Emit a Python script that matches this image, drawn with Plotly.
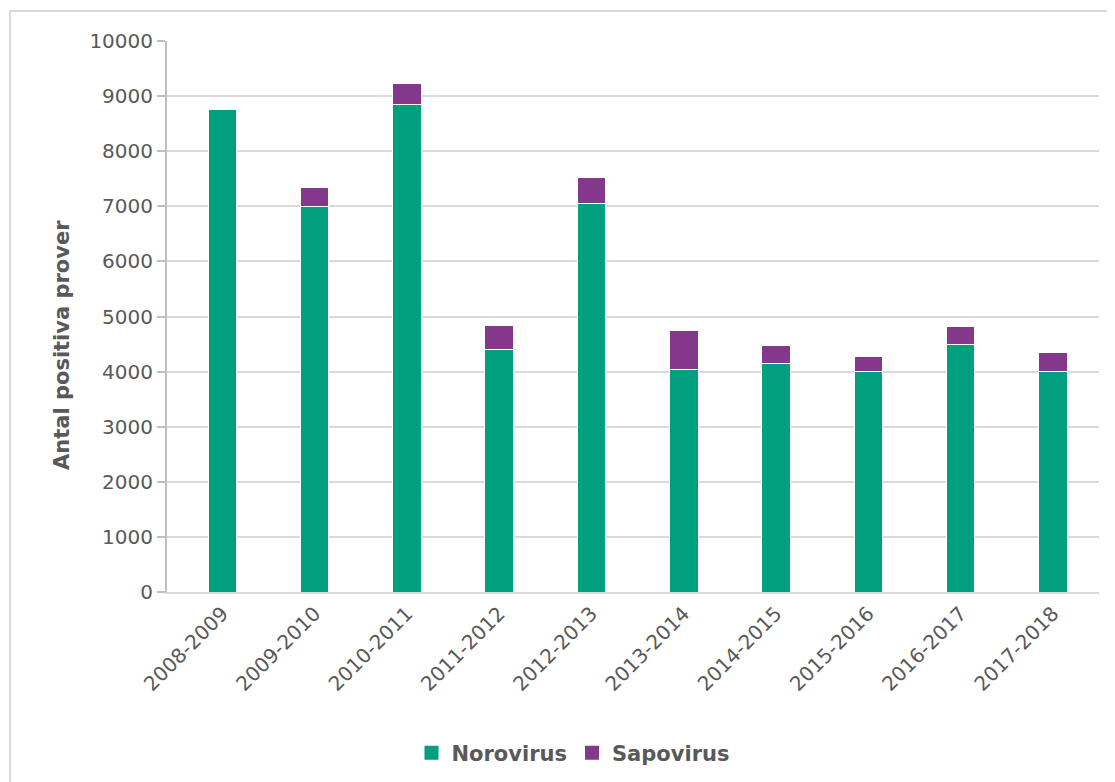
import plotly.graph_objects as go

seasons = ["2008-2009", "2009-2010", "2010-2011", "2011-2012", "2012-2013",
           "2013-2014", "2014-2015", "2015-2016", "2016-2017", "2017-2018"]
norovirus = [8760, 6990, 8840, 4400, 7050, 4040, 4150, 4010, 4500, 4000]
sapovirus = [0, 350, 390, 440, 470, 700, 330, 260, 310, 340]
y_ticks = list(range(0, 10001, 1000))

GREEN = "#00a07f"
PURPLE = "#84388b"
FONT = "DejaVu Sans"
TXT = "#595959"

fig = go.Figure()
fig.add_trace(go.Bar(name="Norovirus", x=seasons, y=norovirus, marker_color=GREEN,
                     marker_line=dict(color="white", width=1), showlegend=False))
fig.add_trace(go.Bar(name="Sapovirus", x=seasons, y=sapovirus, marker_color=PURPLE,
                     marker_line=dict(color="white", width=1), showlegend=False))
# legend entries with larger square symbols
for name, col in [("Norovirus", GREEN), ("Sapovirus", PURPLE)]:
    fig.add_trace(go.Scatter(name=name, x=[seasons[0]], y=[None], mode="markers",
                             marker=dict(symbol="square", size=14, color=col),
                             showlegend=True, hoverinfo="skip"))

W, H = 1107, 774
L, T = 159, 33
pw, ph = 932, 551
R = W - L - pw
B = H - T - ph

fig.update_layout(
    barmode="stack",
    bargap=0.69,
    width=W, height=H,
    margin=dict(l=L, r=R, t=T, b=B, autoexpand=False),
    paper_bgcolor="white", plot_bgcolor="white",
    font=dict(family=FONT, color=TXT, size=20),
    showlegend=True,
    legend=dict(orientation="h", xref="container", x=(573 - 8) / W, xanchor="center",
                yref="container", y=1 - (753 - 8) / H, yanchor="middle",
                font=dict(family=FONT, size=21, color=TXT, weight="bold"),
                traceorder="normal", itemwidth=30, tracegroupgap=0),
    xaxis=dict(tickangle=-45, showgrid=False, showline=True, linecolor="#d9d9d9",
               linewidth=2, ticks="", automargin=False,
               tickfont=dict(size=20, color=TXT, family=FONT)),
    yaxis=dict(range=[0, 10000], tickvals=y_ticks, tickformat="d", showgrid=True,
               gridcolor="#d9d9d9", gridwidth=2, showline=True, linecolor="#bfbfbf",
               linewidth=2, ticks="outside", ticklen=8, tickcolor="#bfbfbf", tickwidth=2,
               tickfont=dict(size=20, color=TXT, family=FONT), automargin=False,
               zeroline=False),
)

fig.add_annotation(text="<b>Antal positiva prover</b>", textangle=-90,
                   xref="paper", yref="paper", x=(62 - 167) / pw, y=(592 - 345) / ph,
                   xanchor="center", yanchor="middle", showarrow=False,
                   font=dict(size=21, color=TXT, family=FONT))

# outer frame of the chart
x0 = (2 - L) / pw
y1 = 1 + (T - 3) / ph
fig.add_shape(type="rect", xref="paper", yref="paper", x0=x0, x1=1 + (R + 20) / pw,
              y0=-(B + 20) / ph, y1=y1, line=dict(color="#d9d9d9", width=2),
              fillcolor="rgba(0,0,0,0)", layer="below")

fig.write_html("out.html")
